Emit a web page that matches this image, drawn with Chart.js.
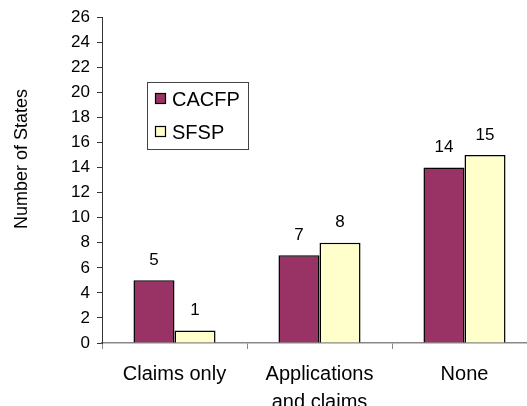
<!DOCTYPE html>
<html>
<head>
<meta charset="utf-8">
<script src="https://cdn.jsdelivr.net/npm/chart.js@4.4.1/dist/chart.umd.min.js"></script>
<style>
  html, body { margin: 0; padding: 0; background: #fff; overflow: hidden; }
  #wrap { width: 545px; height: 406px; }
</style>
</head>
<body>
<div id="wrap"><canvas id="c" width="545" height="406"></canvas></div>
<script>
const categories = ["Claims only", ["Applications", "and claims"], "None"];
const seriesNames = ["CACFP", "SFSP"];
const cacfpValues = [5, 7, 14];
const sfspValues = [1, 8, 15];
const yAxisTitle = "Number of States";
const yMin = 0, yMax = 26, yStep = 2;

const FONT = "'Liberation Sans', Arial, sans-serif";
const colors = ["#993366", "#FFFFCC"];

const valueLabels = {
  id: 'valueLabels',
  afterDatasetsDraw(chart) {
    const ctx = chart.ctx;
    ctx.save();
    ctx.font = "17px " + FONT;
    ctx.fillStyle = "#000";
    ctx.textAlign = "center";
    ctx.textBaseline = "middle";
    chart.data.datasets.forEach((ds, i) => {
      const meta = chart.getDatasetMeta(i);
      meta.data.forEach((bar, j) => {
        ctx.fillText(String(ds.data[j]), bar.x, bar.y - 20);
      });
    });
    ctx.restore();
  }
};

const extras = {
  id: 'extras',
  afterDraw(chart) {
    const ctx = chart.ctx;
    ctx.save();
    ctx.translate(22, 159);
    ctx.rotate(-Math.PI / 2);
    ctx.font = "18px " + FONT;
    ctx.fillStyle = "#000";
    ctx.textAlign = "center";
    ctx.textBaseline = "middle";
    ctx.fillText(yAxisTitle, 0, 0);
    ctx.restore();

    ctx.save();
    ctx.fillStyle = "#fff";
    ctx.strokeStyle = "#444";
    ctx.lineWidth = 1;
    ctx.fillRect(147, 82, 101, 67);
    ctx.strokeRect(147.5, 82.5, 101, 67);
    const ys = [99, 132];
    chart.data.datasets.forEach((ds, i) => {
      ctx.fillStyle = ds.backgroundColor;
      ctx.fillRect(155, ys[i] - 5, 10, 10);
      ctx.strokeStyle = "#000";
      ctx.lineWidth = 1.2;
      ctx.strokeRect(155.5, ys[i] - 5.5, 10, 10);
      ctx.fillStyle = "#000";
      ctx.font = "20px " + FONT;
      ctx.textAlign = "left";
      ctx.textBaseline = "middle";
      ctx.fillText(ds.label, 172, ys[i] + 1);
    });
    ctx.restore();
  }
};

new Chart(document.getElementById('c'), {
  type: 'bar',
  data: {
    labels: categories,
    datasets: [
      { label: seriesNames[0], data: cacfpValues, backgroundColor: colors[0], borderColor: "#000", borderWidth: 1.5, barPercentage: 1, categoryPercentage: 0.566 },
      { label: seriesNames[1], data: sfspValues, backgroundColor: colors[1], borderColor: "#000", borderWidth: 1.5, barPercentage: 1, categoryPercentage: 0.566 }
    ]
  },
  options: {
    responsive: false,
    animation: false,
    devicePixelRatio: 1,
    layout: { padding: { top: 16, right: 8, bottom: 0, left: 0 } },
    plugins: { legend: { display: false }, tooltip: { enabled: false } },
    scales: {
      x: {
        grid: { display: true, drawOnChartArea: false, drawTicks: true, tickLength: 6, color: "#888", offset: true },
        border: { display: true, color: "#888", width: 1.5 },
        ticks: { color: "#000", font: { family: FONT, size: 20, lineHeight: 1.4 }, padding: 11, maxRotation: 0, autoSkip: false },
        afterFit(scale) { scale.height = 63; }
      },
      y: {
        min: yMin, max: yMax,
        grid: { display: true, drawOnChartArea: false, drawTicks: true, tickLength: 5, color: "#333" },
        border: { display: true, color: "#333", width: 1 },
        ticks: { stepSize: yStep, color: "#000", font: { family: FONT, size: 17 }, padding: 7 },
        afterFit(scale) { scale.width = 102; }
      }
    }
  },
  plugins: [valueLabels, extras]
});
</script>
</body>
</html>
